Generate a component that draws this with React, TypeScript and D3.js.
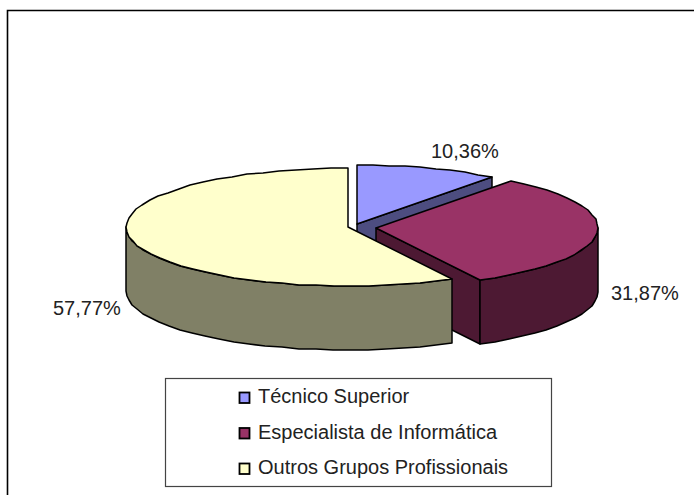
import React from 'react';
import * as d3 from 'd3';

const categories = ['Técnico Superior', 'Especialista de Informática', 'Outros Grupos Profissionais'];
const values = [10.36, 31.87, 57.77];
const topColors = ['#9999ff', '#993366', '#ffffcc'];
const sideColors = ['#4d4d80', '#4d1933', '#808066'];

const width = 694;
const height = 495;
const rx = 222;
const ry = 59;
const depth = 64;
// each slice is pulled out of the pie by hand
const centers = [[357, 224], [376, 228], [348, 227]];
const labelPos = [[431, 158], [611, 300], [53, 315]];

const pie = d3.pie<number>().sort(null).value(d => d);
const line = d3.line();

// coarse, pixel-snapped outline: the source chart has a slightly rough edge
const arcPoints = (cx: number, cy: number, a0: number, a1: number) => {
  const n = Math.max(2, Math.ceil((a1 - a0) / 0.08));
  return d3.range(n + 1).map(i => {
    const a = a0 + ((a1 - a0) * i) / n;
    return [Math.round(cx + rx * Math.sin(a)), Math.round(cy - ry * Math.cos(a))] as [number, number];
  });
};

const stroke = { stroke: '#000', strokeWidth: 1.5, strokeLinejoin: 'round' as const };

export default function App() {
  const slices = pie(values);
  return (
    <svg
      width={width}
      height={height}
      style={{ position: 'absolute', left: 0, top: 0, fontFamily: '"Liberation Sans", Arial, sans-serif' }}
    >
      <rect width={width} height={height} fill="#fff" />
      <path d={`M7.5,${height}V10.5H${width}`} fill="none" stroke="#000" strokeWidth={1.6} />

      {slices.map((s, i) => {
        const [cx, cy] = centers[i];
        const top = arcPoints(cx, cy, s.startAngle, s.endAngle);
        const face = line([[cx, cy], ...top]) + 'Z';
        // front wall only shows between 90 and 270 degrees
        const w0 = Math.max(s.startAngle, Math.PI / 2);
        const w1 = Math.min(s.endAngle, (3 * Math.PI) / 2);
        let wall = null;
        if (w1 > w0) {
          const upper = arcPoints(cx, cy, w0, w1);
          const lower = arcPoints(cx, cy + depth, w0, w1).reverse();
          wall = line([...upper, ...lower]) + 'Z';
        }
        // cut face at the end angle looks towards the viewer for the right-hand slices
        let cut = null;
        if (s.endAngle < Math.PI) {
          const end = top[top.length - 1];
          cut = line([
            [cx, cy],
            end,
            [end[0], end[1] + depth],
            [cx, cy + depth],
          ]) + 'Z';
        }
        return (
          <g key={categories[i]}>
            {cut && <path d={cut} fill={sideColors[i]} {...stroke} />}
            {wall && <path d={wall} fill={sideColors[i]} {...stroke} />}
            <path d={face} fill={topColors[i]} {...stroke} />
          </g>
        );
      })}

      {slices.map((s, i) => (
        <text key={i} x={labelPos[i][0]} y={labelPos[i][1]} fontSize={20} fill="#222">
          {s.value.toFixed(2).replace('.', ',')}%
        </text>
      ))}

      <rect x={165.5} y={378.5} width={386} height={108} fill="#fff" stroke="#444" strokeWidth={1.2} />
      {categories.map((c, i) => (
        <g key={c}>
          <rect x={239.5} y={392.5 + i * 35.5} width={10} height={10.5} fill={topColors[i]} stroke="#000" strokeWidth={1.8} />
          <text x={258} y={403 + i * 35.5} fontSize={20} fill="#222">
            {c}
          </text>
        </g>
      ))}
    </svg>
  );
}
